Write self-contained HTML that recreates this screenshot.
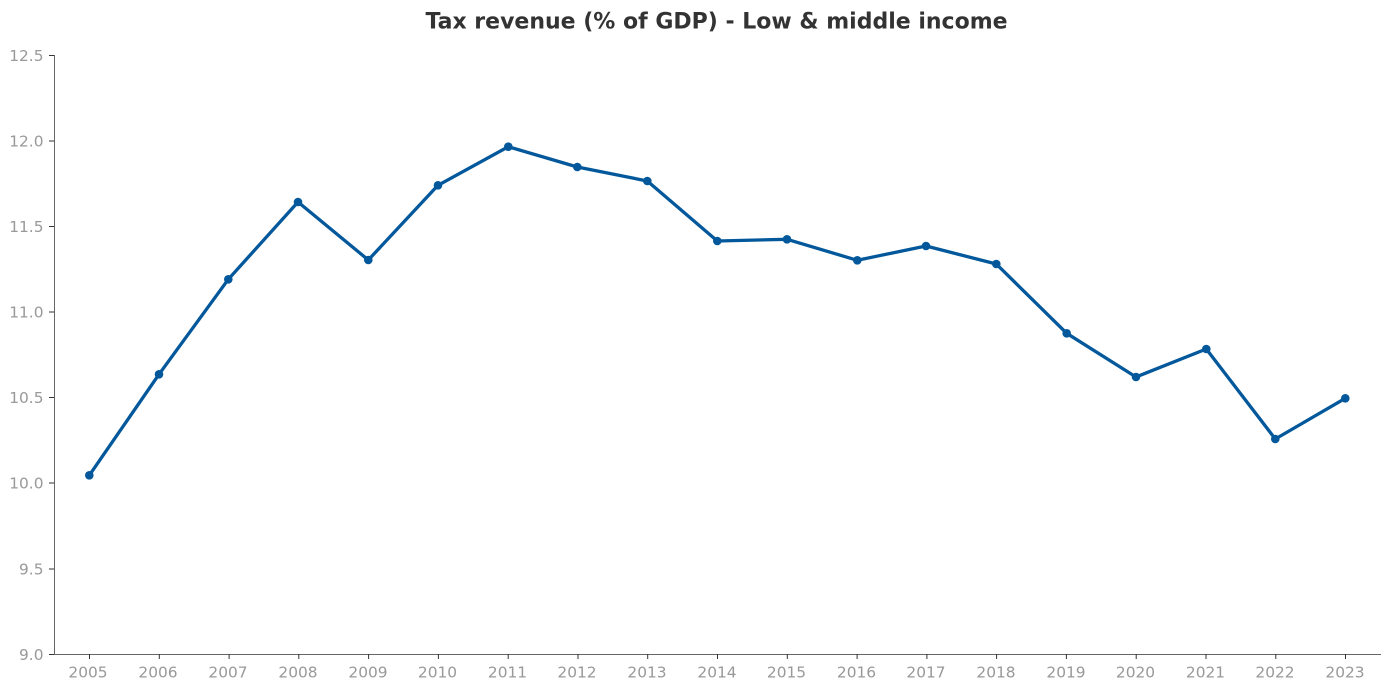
<!DOCTYPE html>
<html>
<head>
<meta charset="utf-8">
<style>
html,body{margin:0;padding:0;background:#fff;}
svg{display:block;}
text{font-family:"DejaVu Sans","Liberation Sans",sans-serif;}
</style>
</head>
<body>
<svg width="1389" height="689" viewBox="0 0 1389 689" xmlns="http://www.w3.org/2000/svg">
<rect width="1389" height="689" fill="#fff"/>
<text x="716.5" y="28.5" text-anchor="middle" font-size="22" font-weight="bold" fill="#333333">Tax revenue (% of GDP) - Low &amp; middle income</text>
<!-- spines -->
<line x1="54.5" y1="55" x2="54.5" y2="654.5" stroke="#666" stroke-width="1"/>
<line x1="54" y1="654.5" x2="1381" y2="654.5" stroke="#666" stroke-width="1"/>
<!-- y ticks -->
<g stroke="#333" stroke-width="1">
<line x1="49" y1="55.5" x2="54" y2="55.5"/>
<line x1="49" y1="141" x2="54" y2="141"/>
<line x1="49" y1="226.5" x2="54" y2="226.5"/>
<line x1="49" y1="312" x2="54" y2="312"/>
<line x1="49" y1="397.5" x2="54" y2="397.5"/>
<line x1="49" y1="483" x2="54" y2="483"/>
<line x1="49" y1="569" x2="54" y2="569"/>
<line x1="49" y1="654.5" x2="54" y2="654.5"/>
</g>
<g font-size="15.4" fill="#999999" text-anchor="end">
<text x="43.5" y="61">12.5</text>
<text x="43.5" y="146.5">12.0</text>
<text x="43.5" y="232">11.5</text>
<text x="43.5" y="317.5">11.0</text>
<text x="43.5" y="403">10.5</text>
<text x="43.5" y="488.5">10.0</text>
<text x="43.5" y="574.5">9.5</text>
<text x="43.5" y="660">9.0</text>
</g>
<!-- x ticks -->
<g stroke="#333" stroke-width="1">
<line x1="89.5" y1="654" x2="89.5" y2="659"/>
<line x1="159.3" y1="654" x2="159.3" y2="659"/>
<line x1="229.1" y1="654" x2="229.1" y2="659"/>
<line x1="298.8" y1="654" x2="298.8" y2="659"/>
<line x1="368.6" y1="654" x2="368.6" y2="659"/>
<line x1="438.4" y1="654" x2="438.4" y2="659"/>
<line x1="508.2" y1="654" x2="508.2" y2="659"/>
<line x1="578" y1="654" x2="578" y2="659"/>
<line x1="647.7" y1="654" x2="647.7" y2="659"/>
<line x1="717.5" y1="654" x2="717.5" y2="659"/>
<line x1="787.3" y1="654" x2="787.3" y2="659"/>
<line x1="857.1" y1="654" x2="857.1" y2="659"/>
<line x1="926.9" y1="654" x2="926.9" y2="659"/>
<line x1="996.6" y1="654" x2="996.6" y2="659"/>
<line x1="1066.4" y1="654" x2="1066.4" y2="659"/>
<line x1="1136.2" y1="654" x2="1136.2" y2="659"/>
<line x1="1206" y1="654" x2="1206" y2="659"/>
<line x1="1275.8" y1="654" x2="1275.8" y2="659"/>
<line x1="1345.5" y1="654" x2="1345.5" y2="659"/>
</g>
<g font-size="15.4" fill="#999999" text-anchor="middle">
<text x="88" y="677.5">2005</text>
<text x="158" y="677.5">2006</text>
<text x="228" y="677.5">2007</text>
<text x="298" y="677.5">2008</text>
<text x="368" y="677.5">2009</text>
<text x="437.5" y="677.5">2010</text>
<text x="507.5" y="677.5">2011</text>
<text x="577" y="677.5">2012</text>
<text x="647" y="677.5">2013</text>
<text x="717" y="677.5">2014</text>
<text x="786.5" y="677.5">2015</text>
<text x="856.5" y="677.5">2016</text>
<text x="926" y="677.5">2017</text>
<text x="996" y="677.5">2018</text>
<text x="1066" y="677.5">2019</text>
<text x="1135.5" y="677.5">2020</text>
<text x="1205.5" y="677.5">2021</text>
<text x="1275" y="677.5">2022</text>
<text x="1345" y="677.5">2023</text>
</g>
<!-- series -->
<polyline fill="none" stroke="#02589b" stroke-width="3.3" stroke-linejoin="round" stroke-linecap="round"
points="89.3,475.3 159,374.3 228.3,279.3 298,202 368.3,260 438,185.3 508.3,146.7 577.3,167 647.3,181 717.3,241 787,239.3 857.3,260.3 926,246 996.3,264 1066.7,333.3 1136,377 1206.3,349 1275.3,439 1345.3,398.3"/>
<g fill="#02589b">
<circle cx="89.3" cy="475.3" r="4.3"/>
<circle cx="159" cy="374.3" r="4.3"/>
<circle cx="228.3" cy="279.3" r="4.3"/>
<circle cx="298" cy="202" r="4.3"/>
<circle cx="368.3" cy="260" r="4.3"/>
<circle cx="438" cy="185.3" r="4.3"/>
<circle cx="508.3" cy="146.7" r="4.3"/>
<circle cx="577.3" cy="167" r="4.3"/>
<circle cx="647.3" cy="181" r="4.3"/>
<circle cx="717.3" cy="241" r="4.3"/>
<circle cx="787" cy="239.3" r="4.3"/>
<circle cx="857.3" cy="260.3" r="4.3"/>
<circle cx="926" cy="246" r="4.3"/>
<circle cx="996.3" cy="264" r="4.3"/>
<circle cx="1066.7" cy="333.3" r="4.3"/>
<circle cx="1136" cy="377" r="4.3"/>
<circle cx="1206.3" cy="349" r="4.3"/>
<circle cx="1275.3" cy="439" r="4.3"/>
<circle cx="1345.3" cy="398.3" r="4.3"/>
</g>
</svg>
</body>
</html>
